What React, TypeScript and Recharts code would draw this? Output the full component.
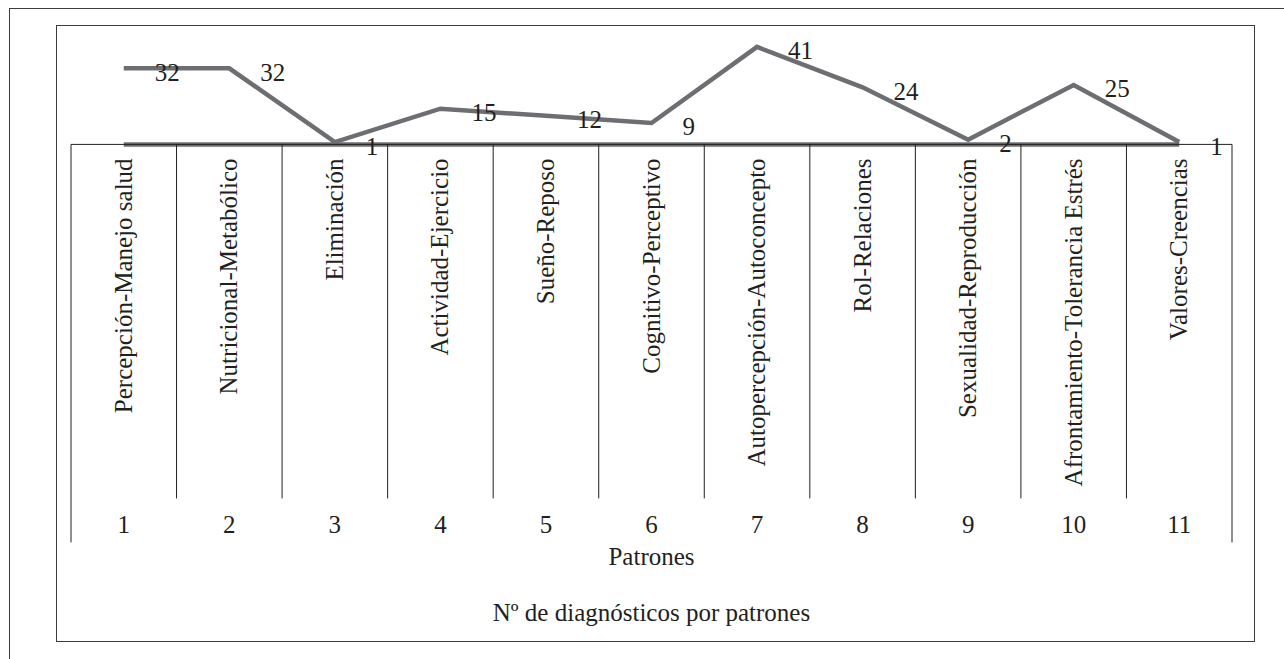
import React from 'react';
import { ComposedChart, Line, XAxis, YAxis, ReferenceLine, LabelList, Label } from 'recharts';

const CATEGORIES = [
  'Percepción-Manejo salud',
  'Nutricional-Metabólico',
  'Eliminación',
  'Actividad-Ejercicio',
  'Sueño-Reposo',
  'Cognitivo-Perceptivo',
  'Autopercepción-Autoconcepto',
  'Rol-Relaciones',
  'Sexualidad-Reproducción',
  'Afrontamiento-Tolerancia Estrés',
  'Valores-Creencias',
];
const PATTERN_NUMBERS = ['1', '2', '3', '4', '5', '6', '7', '8', '9', '10', '11'];
const DIAGNOSES = [32, 32, 1, 15, 12, 9, 41, 24, 2, 25, 1];
const AXIS_TITLE = 'Patrones';
const CHART_TITLE = 'Nº de diagnósticos por patrones';

const data = CATEGORIES.map((cat, i) => ({ cat, num: PATTERN_NUMBERS[i], value: DIAGNOSES[i] }));

const W = 1284;
const H = 659;
const MARGIN = { top: 35, right: 52, left: 71, bottom: 14.6 };
const XAXIS_H = 500;
const BAND = (W - MARGIN.left - MARGIN.right) / CATEGORIES.length;
const FONT = '"Liberation Serif", "Times New Roman", serif';
const INK = '#231f20';
const LINE_COLOR = '#6d6e71';

const TableTick = (props: any) => {
  const { x, y, payload, index } = props;
  const last = index === CATEGORIES.length - 1;
  const left = x - BAND / 2;
  const right = x + BAND / 2;
  return (
    <g>
      <line x1={left} x2={left} y1={y} y2={y + (index === 0 ? 398 : 354)} stroke={INK} strokeWidth={1} />
      {last && <line x1={right} x2={right} y1={y} y2={y + 398} stroke={INK} strokeWidth={1} />}
      <text
        transform={`translate(${x + 8}, ${y + 14}) rotate(-90)`}
        textAnchor="end"
        fontFamily={FONT}
        fontSize={25}
        fill={INK}
      >
        {payload.value}
      </text>
      <text x={x} y={y + 389} textAnchor="middle" fontFamily={FONT} fontSize={25} fill={INK}>
        {PATTERN_NUMBERS[index]}
      </text>
    </g>
  );
};

const ValueLabel = (props: any) => {
  const { x, y, value } = props;
  return (
    <text x={x + 31} y={y + 4} dominantBaseline="central" textAnchor="start" fontFamily={FONT} fontSize={25} fill={INK}>
      {value}
    </text>
  );
};

export default function App() {
  return (
    <div style={{ position: 'absolute', left: 0, top: 0, width: W, height: H, background: '#fff' }}>
      <div
        style={{
          position: 'absolute',
          left: 9,
          top: 8,
          width: W - 9,
          height: H - 8,
          borderTop: '1.5px solid #3c3c3c',
          borderLeft: '1.5px solid #3c3c3c',
          boxSizing: 'border-box',
        }}
      />
      <div
        style={{
          position: 'absolute',
          left: 56,
          top: 25,
          width: 1199,
          height: 617,
          border: '1.5px solid #3c3c3c',
          boxSizing: 'border-box',
        }}
      />
      <div style={{ position: 'absolute', left: 0, top: 0 }}>
        <ComposedChart width={W} height={H} data={data} margin={MARGIN}>
          <YAxis hide domain={[0, 46]} type="number" />
          <XAxis
            dataKey="cat"
            scale="band"
            height={XAXIS_H}
            interval={0}
            tickLine={false}
            tickSize={0}
            tickMargin={0}
            axisLine={{ stroke: INK, strokeWidth: 1 }}
            tick={<TableTick />}
          >
            <Label
              content={(p: any) => {
                const vb = p.viewBox;
                return (
                  <text x={vb.x + vb.width / 2} y={vb.y + 421} textAnchor="middle" fontFamily={FONT} fontSize={25} fill={INK}>
                    {AXIS_TITLE}
                  </text>
                );
              }}
            />
            <Label
              content={(p: any) => {
                const vb = p.viewBox;
                return (
                  <text x={vb.x + vb.width / 2} y={vb.y + 476.6} textAnchor="middle" fontFamily={FONT} fontSize={25} fill={INK}>
                    {CHART_TITLE}
                  </text>
                );
              }}
            />
          </XAxis>
          <ReferenceLine
            segment={[
              { x: CATEGORIES[0], y: 0 },
              { x: CATEGORIES[CATEGORIES.length - 1], y: 0 },
            ]}
            stroke={LINE_COLOR}
            strokeWidth={4.5}
          />
          <Line
            dataKey="value"
            stroke={LINE_COLOR}
            strokeWidth={4.5}
            strokeLinejoin="miter"
            dot={false}
            activeDot={false}
            isAnimationActive={false}
          >
            <LabelList dataKey="value" content={<ValueLabel />} />
          </Line>
        </ComposedChart>
      </div>
    </div>
  );
}
